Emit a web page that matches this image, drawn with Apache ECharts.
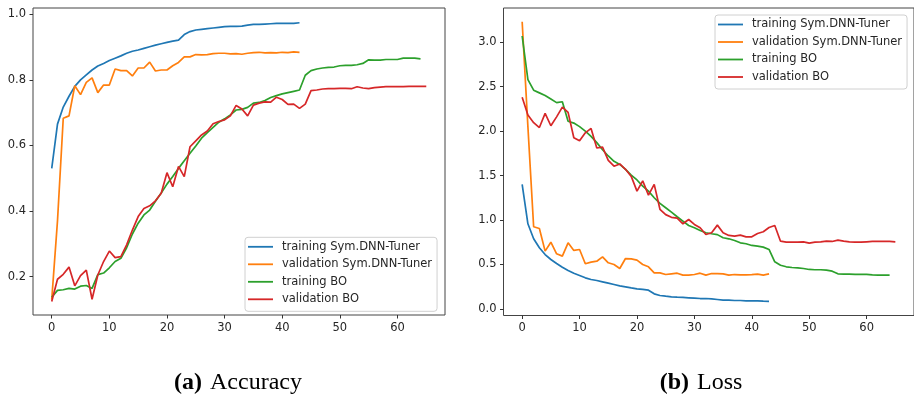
<!DOCTYPE html>
<html>
<head>
<meta charset="utf-8">
<script src="https://cdn.jsdelivr.net/npm/echarts@6/dist/echarts.min.js"></script>
<style>
html,body{margin:0;padding:0;background:#fff;}
#chart{width:914px;height:394px;}
</style>
</head>
<body>
<div id="chart"></div>
<script>
// ---- Data ----
const seriesNames = ['training Sym.DNN-Tuner', 'validation Sym.DNN-Tuner', 'training BO', 'validation BO'];
const xTicks = [0, 10, 20, 30, 40, 50, 60];
const accTicks = [0.2, 0.4, 0.6, 0.8, 1.0];
const lossTicks = [0.0, 0.5, 1.0, 1.5, 2.0, 2.5, 3.0];
const captionA = ['(a)', 'Accuracy'];
const captionB = ['(b)', 'Loss'];

const accTrainSym = [
  0.53,0.665,0.717,0.75,0.78,0.80,0.815,0.83,0.842,0.85,
  0.859,0.866,0.873,0.881,0.887,0.891,0.896,0.901,0.906,0.91,
  0.914,0.918,0.921,0.938,0.947,0.952,0.954,0.956,0.958,0.960,
  0.962,0.963,0.963,0.964,0.967,0.969,0.969,0.970,0.971,0.972,
  0.972,0.972,0.972,0.974
];
const accValSym = [
  0.13,0.37,0.683,0.69,0.782,0.755,0.792,0.806,0.761,0.784,
  0.784,0.833,0.828,0.828,0.812,0.836,0.836,0.854,0.827,0.83,
  0.83,0.843,0.853,0.870,0.870,0.877,0.876,0.877,0.880,0.881,
  0.881,0.879,0.880,0.878,0.881,0.883,0.884,0.882,0.883,0.882,
  0.884,0.883,0.885,0.884
];
const accTrainBO = [
  0.137,0.158,0.16,0.164,0.162,0.171,0.173,0.164,0.206,0.211,
  0.227,0.246,0.256,0.288,0.33,0.363,0.388,0.403,0.43,0.455,
  0.482,0.505,0.53,0.553,0.576,0.598,0.622,0.639,0.655,0.671,
  0.681,0.693,0.708,0.71,0.716,0.729,0.731,0.737,0.746,0.752,
  0.757,0.761,0.765,0.769,0.814,0.828,0.833,0.836,0.838,0.839,
  0.843,0.844,0.844,0.846,0.85,0.861,0.86,0.86,0.862,0.862,
  0.862,0.866,0.866,0.866,0.864
];
const accValBO = [
  0.124,0.192,0.207,0.229,0.172,0.203,0.22,0.131,0.205,0.246,
  0.278,0.258,0.261,0.297,0.342,0.383,0.408,0.416,0.431,0.454,
  0.517,0.474,0.536,0.505,0.596,0.614,0.632,0.644,0.666,0.673,
  0.678,0.69,0.722,0.711,0.69,0.723,0.729,0.733,0.732,0.747,
  0.740,0.725,0.726,0.713,0.726,0.767,0.769,0.772,0.773,0.773,
  0.774,0.774,0.773,0.779,0.775,0.773,0.776,0.778,0.779,0.779,
  0.779,0.779,0.78,0.78,0.78,0.78
];

const lossTrainSym = [
  1.40,0.957,0.788,0.687,0.611,0.555,0.51,0.468,0.431,0.401,
  0.375,0.349,0.33,0.319,0.304,0.289,0.274,0.259,0.248,0.236,
  0.225,0.218,0.21,0.169,0.15,0.142,0.135,0.131,0.128,0.124,
  0.12,0.116,0.116,0.112,0.105,0.098,0.098,0.094,0.094,0.09,
  0.09,0.09,0.087,0.085
];
const lossValSym = [
  3.23,2.05,0.923,0.904,0.649,0.75,0.619,0.593,0.743,0.657,
  0.668,0.507,0.525,0.536,0.585,0.518,0.499,0.454,0.566,0.563,
  0.548,0.499,0.473,0.405,0.405,0.386,0.394,0.401,0.379,0.379,
  0.386,0.401,0.379,0.397,0.397,0.394,0.379,0.386,0.383,0.383,
  0.386,0.39,0.379,0.394
];
const lossTrainBO = [
  3.07,2.58,2.46,2.43,2.40,2.36,2.32,2.33,2.11,2.09,
  2.05,2.00,1.94,1.87,1.79,1.72,1.66,1.625,1.57,1.505,
  1.45,1.38,1.325,1.25,1.186,1.137,1.088,1.036,0.987,0.938,
  0.912,0.882,0.856,0.845,0.835,0.80,0.788,0.769,0.743,0.732,
  0.713,0.705,0.694,0.668,0.529,0.491,0.473,0.465,0.461,0.454,
  0.443,0.44,0.44,0.436,0.424,0.394,0.39,0.39,0.387,0.387,
  0.387,0.383,0.38,0.38,0.38
];
const lossValBO = [
  2.38,2.18,2.095,2.04,2.20,2.06,2.16,2.27,2.21,1.925,
  1.89,1.98,2.03,1.81,1.82,1.67,1.605,1.63,1.57,1.49,
  1.325,1.44,1.28,1.40,1.12,1.06,1.03,1.02,0.957,1.005,
  0.95,0.912,0.837,0.856,0.942,0.856,0.826,0.818,0.829,0.81,
  0.81,0.848,0.867,0.915,0.938,0.761,0.75,0.75,0.75,0.754,
  0.739,0.75,0.754,0.761,0.758,0.773,0.761,0.754,0.75,0.75,
  0.754,0.758,0.758,0.758,0.758,0.754
];

// ---- Build chart ----
const colors = ['#1f77b4', '#ff7f0e', '#2ca02c', '#d62728'];
const font = "'DejaVu Sans', sans-serif";
const serif = "'Liberation Serif', 'DejaVu Serif', serif";
const toPairs = arr => arr.map((v, i) => [i, v]);

function mkX(gridIndex) {
  return {
    type: 'value', gridIndex, min: -3.25, max: 68.25,
    splitLine: { show: false },
    axisLine: { show: false, onZero: false },
    axisTick: { show: true, customValues: xTicks, length: 3.5, lineStyle: { color: '#333', width: 1 } },
    axisLabel: { customValues: xTicks, margin: 7, fontSize: 11.5, color: '#262626', fontFamily: font,
      formatter: v => String(v) }
  };
}
function mkY(gridIndex, min, max, ticks) {
  return {
    type: 'value', gridIndex, min, max,
    splitLine: { show: false },
    axisLine: { show: false, onZero: false },
    axisTick: { show: true, customValues: ticks, length: 3.5, lineStyle: { color: '#333', width: 1 } },
    axisLabel: { customValues: ticks, margin: 7, fontSize: 11.5, color: '#262626', fontFamily: font,
      formatter: v => v.toFixed(1) }
  };
}
function mkSeries(name, data, idx, colorIdx) {
  return {
    type: 'line', name, data: toPairs(data), xAxisIndex: idx, yAxisIndex: idx,
    showSymbol: false, symbol: 'none', animation: false,
    lineStyle: { color: colors[colorIdx], width: 1.7 },
    itemStyle: { color: colors[colorIdx] }
  };
}
function mkLegend(left, top) {
  return {
    orient: 'vertical', left, top, data: seriesNames,
    icon: 'rect', itemWidth: 25, itemHeight: 1.8, itemGap: 3.5,
    padding: [2.5, 5, 5, 3],
    backgroundColor: 'rgba(255,255,255,0.85)',
    borderColor: '#d0d0d0', borderWidth: 1, borderRadius: 3,
    selectedMode: false,
    textStyle: { fontSize: 11.5, fontFamily: font, color: '#262626', lineHeight: 14, padding: [0, 0, 0, 4] }
  };
}
function mkCaption(x, parts) {
  return {
    type: 'text', x, y: 383,
    style: {
      text: '{b|' + parts[0] + '}{s| }{r|' + parts[1] + '}',
      align: 'center', verticalAlign: 'middle', fill: '#000',
      rich: {
        b: { fontWeight: 'bold', fontSize: 24, fontFamily: serif, fill: '#000' },
        s: { fontSize: 24, fontFamily: serif, width: 8 },
        r: { fontSize: 24, fontFamily: serif, fill: '#000' }
      }
    }
  };
}

const chart = echarts.init(document.getElementById('chart'), null, { renderer: 'canvas' });
chart.setOption({
  animation: false,
  backgroundColor: '#fff',
  grid: [
    { left: 33, top: 8, width: 412, height: 307, show: true, borderColor: '#444', borderWidth: 1, backgroundColor: 'transparent' },
    { left: 503.5, top: 8, width: 411, height: 307.5, show: true, borderColor: '#444', borderWidth: 1, backgroundColor: 'transparent' }
  ],
  xAxis: [mkX(0), mkX(1)],
  yAxis: [mkY(0, 0.083, 1.019, accTicks), mkY(1, -0.075, 3.385, lossTicks)],
  legend: [mkLegend(245, 237.3), mkLegend(715, 15)],
  series: [
    mkSeries(seriesNames[0], accTrainSym, 0, 0),
    mkSeries(seriesNames[1], accValSym, 0, 1),
    mkSeries(seriesNames[2], accTrainBO, 0, 2),
    mkSeries(seriesNames[3], accValBO, 0, 3),
    mkSeries(seriesNames[0], lossTrainSym, 1, 0),
    mkSeries(seriesNames[1], lossValSym, 1, 1),
    mkSeries(seriesNames[2], lossTrainBO, 1, 2),
    mkSeries(seriesNames[3], lossValBO, 1, 3)
  ],
  graphic: [ mkCaption(238, captionA), mkCaption(701, captionB) ]
});
</script>
</body>
</html>
